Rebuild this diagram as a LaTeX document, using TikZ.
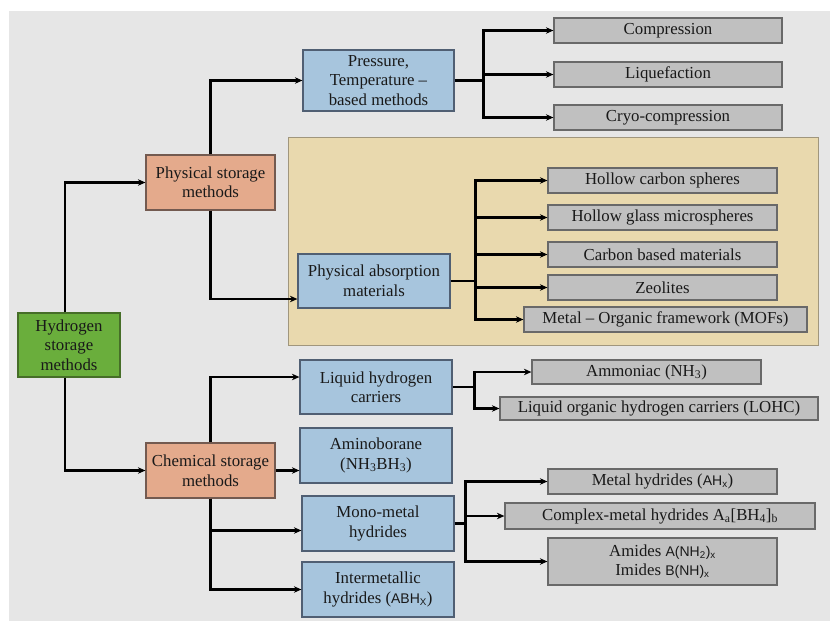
\documentclass[tikz,border=0pt]{standalone}
\usepackage{fontspec}
\setmainfont{Liberation Serif}
\newfontfamily\sff{Liberation Sans}
\usetikzlibrary{arrows.meta,calc}
\definecolor{bgc}{RGB}{230,230,230}
\definecolor{tanc}{RGB}{233,217,174}
\definecolor{tanb}{RGB}{160,150,125}
\definecolor{greyc}{RGB}{192,192,192}
\definecolor{greyb}{RGB}{105,105,105}
\definecolor{bluec}{RGB}{167,197,221}
\definecolor{blueb}{RGB}{80,95,115}
\definecolor{salc}{RGB}{228,170,140}
\definecolor{salb}{RGB}{115,90,80}
\definecolor{grnc}{RGB}{106,174,60}
\definecolor{grnb}{RGB}{70,110,40}
\newcommand\bx[7]{\node[#2, minimum width={#5pt-#3pt}, minimum height={#6pt-#4pt}] (#1) at ({(#3+#5)/2},{(#4+#6)/2}) {#7};}
\newcommand\sanstxt[1]{{\sff\fontsize{14}{16}\selectfont #1}}
\begin{document}
\begin{tikzpicture}[x=1pt,y=-1pt,
  base/.style={inner sep=0pt, align=center, line width=1.2pt, text=black!90, font=\fontsize{16.8}{19.5}\selectfont},
  greybox/.style={base, fill=greyc, draw=greyb},
  bluebox/.style={base, fill=bluec, draw=blueb},
  salbox/.style={base, fill=salc, draw=salb},
  grnbox/.style={base, fill=grnc, draw=grnb},
  arr/.style={line width=2.3pt, -{Stealth[length=7.5pt,width=6.5pt]}},
  ln/.style={line width=2.3pt}]
\useasboundingbox (0,0) rectangle (830,621);
\fill[white] (0,0) rectangle (830,621);
\fill[bgc] (9,11) rectangle (830,621);
\filldraw[fill=tanc, draw=tanb, line width=1pt] (288,137) rectangle (818,345);

\bx{H}{grnbox}{18}{313}{120}{377}{Hydrogen\\storage\\methods}
\bx{PS}{salbox}{146}{155}{275}{210}{Physical storage\\methods}
\bx{CS}{salbox}{146}{443}{275}{498}{Chemical storage\\methods}
\bx{PT}{bluebox}{303}{50}{454}{111}{Pressure,\\Temperature –\\based methods}
\bx{PA}{bluebox}{298}{254}{450}{308}{Physical absorption\\materials}
\bx{LH}{bluebox}{300}{360}{452}{414}{Liquid hydrogen\\carriers}
\bx{AB}{bluebox}{300}{428}{452}{483}{Aminoborane\\(NH\textsubscript{3}BH\textsubscript{3})}
\bx{MM}{bluebox}{302}{496}{454}{551}{Mono-metal\\hydrides}
\bx{IM}{bluebox}{302}{562}{454}{617}{Intermetallic\\hydrides (\sanstxt{ABH\textsubscript{X}})}

\bx{C1}{greybox}{554}{18}{782}{43}{Compression}
\bx{C2}{greybox}{554}{62}{782}{87}{Liquefaction}
\bx{C3}{greybox}{554}{105}{782}{130}{Cryo-compression}
\bx{M1}{greybox}{548}{168}{777}{193}{Hollow carbon spheres}
\bx{M2}{greybox}{548}{205}{777}{230}{Hollow glass microspheres}
\bx{M3}{greybox}{548}{242}{777}{267}{Carbon based materials}
\bx{M4}{greybox}{548}{275}{777}{300}{Zeolites}
\bx{M5}{greybox}{524}{307}{807}{332}{Metal – Organic framework (MOFs)}
\bx{L1}{greybox}{532}{360}{761}{384}{Ammoniac (NH\textsubscript{3})}
\bx{L2}{greybox}{500}{397}{818}{420}{Liquid organic hydrogen carriers (LOHC)}
\bx{H1}{greybox}{548}{469}{777}{494}{Metal hydrides (\sanstxt{AH\textsubscript{x}})}
\bx{H2}{greybox}{505}{503}{815}{529}{Complex-metal hydrides A\textsubscript{a}[BH\textsubscript{4}]\textsubscript{b}}
\bx{H3}{greybox}{548}{538}{777}{585}{Amides \sanstxt{A(NH\textsubscript{2})\textsubscript{x}}\\Imides \sanstxt{B(NH)\textsubscript{x}}}

% main tree
\draw[arr] ([xshift=-4pt]H.north) |- (PS.west);
\draw[arr] ([xshift=-4pt]H.south) |- (CS.west);
\draw[arr] (PS.north) |- (PT.west);
\draw[arr] (PS.south) |- ([yshift=-18pt]PA.west);
\draw[arr] (CS.north) |- ([yshift=10pt]LH.west);
\draw[arr] (CS.east) -- (CS.east -| AB.west);
\draw[arr] (CS.south) |- ([yshift=-7pt]MM.west);
\draw[arr] (CS.south) |- (IM.west);

% pressure branch
\coordinate (pb) at ($(PT.east)+(29,0)$);
\draw[ln] (PT.east) -- (pb);
\foreach \t in {C1,C2,C3} \draw[arr] (pb) |- (\t.west);
% absorption branch
\coordinate (ab) at ($(PA.east)+(25,0)$);
\draw[ln] (PA.east) -- (ab);
\foreach \t in {M1,M2,M3,M4,M5} \draw[arr] (ab) |- (\t.west);
% liquid carriers branch
\coordinate (lb) at ($(LH.east)+(22,0)$);
\draw[ln] (LH.east) -- (lb);
\foreach \t in {L1,L2} \draw[arr] (lb) |- (\t.west);
% mono-metal branch
\coordinate (mb) at ($(MM.east)+(11,0)$);
\draw[ln] (MM.east) -- (mb);
\foreach \t in {H1,H2,H3} \draw[arr] (mb) |- (\t.west);
\end{tikzpicture}
\end{document}
